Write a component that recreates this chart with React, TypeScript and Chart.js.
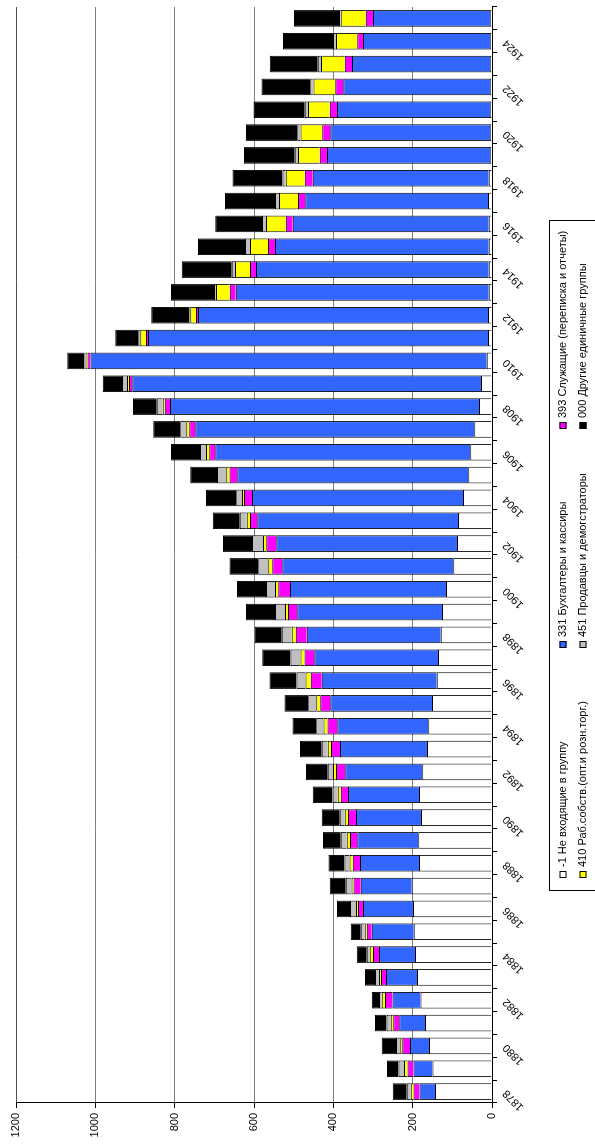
import { useEffect, useRef } from 'react';
import { Chart, registerables } from 'chart.js';

Chart.register(...registerables);

const years = [
  '1878', '1879', '1880', '1881', '1882', '1883', '1884', '1885', '1886', '1887',
  '1888', '1889', '1890', '1891', '1892', '1893', '1894', '1895', '1896', '1897',
  '1898', '1899', '1900', '1901', '1902', '1903', '1904', '1905', '1906', '1907',
  '1908', '1909', '1910', '1911', '1912', '1913', '1914', '1915', '1916', '1917',
  '1918', '1919', '1920', '1921', '1922', '1923', '1924', '1925',
];

const notInGroup = [
  144, 150, 159, 169, 180, 189, 194, 197, 199, 202,
  184, 186, 179, 184, 176, 164, 161, 151, 139, 136,
  129, 126, 116, 98, 88, 86, 73, 60, 55, 45,
  33, 28, 13, 10, 10, 8, 8, 8, 8, 10,
  8, 5, 5, 5, 5, 5, 5, 5,
];
const accountants = [
  39, 48, 48, 65, 71, 78, 91, 106, 126, 129,
  149, 154, 164, 179, 194, 219, 229, 257, 290, 312,
  338, 365, 393, 431, 456, 506, 532, 582, 643, 703,
  779, 879, 999, 857, 731, 638, 587, 539, 494, 461,
  444, 411, 403, 386, 370, 348, 320, 295,
];
const clerks = [
  15, 15, 19, 15, 19, 13, 15, 13, 13, 18,
  18, 18, 20, 18, 23, 23, 25, 25, 28, 25,
  28, 23, 30, 25, 25, 18, 20, 20, 15, 15,
  13, 8, 8, 5, 5, 15, 15, 18, 18, 18,
  20, 18, 20, 18, 20, 18, 15, 18,
];
const ownWorkers = [
  7, 9, 5, 6, 8, 5, 8, 5, 5, 5,
  8, 8, 8, 8, 8, 8, 10, 10, 13, 10,
  10, 8, 8, 10, 8, 8, 5, 8, 8, 8,
  5, 5, 5, 15, 15, 35, 38, 45, 50, 48,
  48, 55, 55, 55, 55, 60, 53, 63,
];
const sellers = [
  10, 14, 11, 11, 7, 10, 8, 10, 15, 15,
  13, 15, 13, 13, 13, 15, 18, 20, 23, 25,
  25, 25, 23, 25, 28, 18, 15, 23, 15, 15,
  15, 13, 3, 5, 2, 5, 8, 13, 10, 10,
  8, 8, 8, 8, 8, 8, 8, 5,
];
const otherGroups = [
  35, 29, 36, 29, 18, 25, 25, 25, 33, 40,
  40, 45, 45, 50, 55, 55, 60, 60, 68, 71,
  68, 73, 73, 73, 73, 68, 76, 68, 73, 68,
  60, 48, 43, 58, 96, 108, 126, 118, 118, 126,
  126, 128, 129, 129, 123, 121, 126, 113,
];

const valueTicks = [0, 200, 400, 600, 800, 1000, 1200];

const seriesNames = [
  '-1 Не входящие в группу',
  '331 Бухгалтеры и кассиры',
  '393 Служащие (переписка и отчеты)',
  '410 Раб.собств.(опт.и розн.торг.)',
  '451 Продавцы и демогстраторы',
  '000 Другие единичные группы',
];
const seriesValues = [notInGroup, accountants, clerks, ownWorkers, sellers, otherGroups];
const seriesColors = ['#FFFFFF', '#3366FF', '#FF00FF', '#FFFF00', '#C0C0C0', '#000000'];

const FONT = 'Liberation Sans, Arial, sans-serif';

const legendPlugin = {
  id: 'gridLegend',
  afterDraw(chart: any) {
    const ctx = chart.ctx as CanvasRenderingContext2D;
    const colX = [268, 498, 717];
    const rowY = [563, 583];
    ctx.save();
    ctx.strokeStyle = '#000';
    ctx.lineWidth = 1;
    ctx.strokeRect(255.5, 549.5, 670, 80);
    ctx.font = `11px ${FONT}`;
    ctx.textBaseline = 'middle';
    ctx.textAlign = 'left';
    seriesNames.forEach((name, i) => {
      const x = colX[i % 3];
      const y = rowY[Math.floor(i / 3)];
      ctx.fillStyle = seriesColors[i];
      ctx.fillRect(x, y - 3.5, 7, 7);
      ctx.strokeStyle = '#000';
      ctx.strokeRect(x + 0.5, y - 3, 6, 6);
      ctx.fillStyle = '#000';
      ctx.fillText(name, x + 11, y);
    });
    ctx.restore();
  },
};

export default function App() {
  const ref = useRef<HTMLCanvasElement>(null);
  useEffect(() => {
    if (!ref.current) return;
    const maxVal = valueTicks[valueTicks.length - 1];
    const chart = new Chart(ref.current, {
      type: 'bar',
      data: {
        labels: years,
        datasets: seriesNames.map((name, i) => ({
          label: name,
          data: seriesValues[i],
          backgroundColor: seriesColors[i],
          borderColor: '#000000',
          borderWidth: 1,
          barPercentage: 0.73,
          categoryPercentage: 1,
        })),
      },
      options: {
        animation: false,
        responsive: false,
        maintainAspectRatio: false,
        layout: { padding: { top: 16, right: 7, left: 0, bottom: 0 } },
        plugins: { legend: { display: false }, tooltip: { enabled: false } },
        scales: {
          x: {
            stacked: true,
            grid: { offset: true, drawOnChartArea: false, tickLength: 5, color: '#000' },
            border: { color: '#000' },
            ticks: {
              autoSkip: false,
              minRotation: 45,
              maxRotation: 45,
              color: '#000',
              font: { family: FONT, size: 11 },
              callback: (_v: any, i: number) => (i % 2 === 0 ? years[i] : ''),
            },
            afterFit: (s: any) => {
              s.height = 103;
            },
          },
          y: {
            stacked: true,
            min: valueTicks[0],
            max: maxVal,
            afterBuildTicks: (s: any) => {
              s.ticks = valueTicks.map((v) => ({ value: v }));
            },
            ticks: {
              color: '#000',
              padding: 5,
              font: { family: FONT, size: 11 },
              callback: (v: any) => String(v),
            },
            grid: {
              color: (c: any) => (c.tick && c.tick.value === maxVal ? '#505050' : '#808080'),
              tickColor: '#000',
              tickLength: 5,
            },
            border: { color: '#000' },
            afterFit: (s: any) => {
              s.width = 43;
            },
          },
        },
      },
      plugins: [legendPlugin],
    });
    return () => chart.destroy();
  }, []);
  return (
    <div
      style={{
        position: 'fixed',
        left: 0,
        top: 0,
        width: 595,
        height: 1146,
        overflow: 'hidden',
        background: '#fff',
      }}
    >
      <canvas
        ref={ref}
        width={1146}
        height={595}
        style={{
          position: 'absolute',
          left: 0,
          top: 0,
          width: 1146,
          height: 595,
          transformOrigin: '0 0',
          transform: 'translateY(1146px) rotate(-90deg)',
        }}
      />
    </div>
  );
}
